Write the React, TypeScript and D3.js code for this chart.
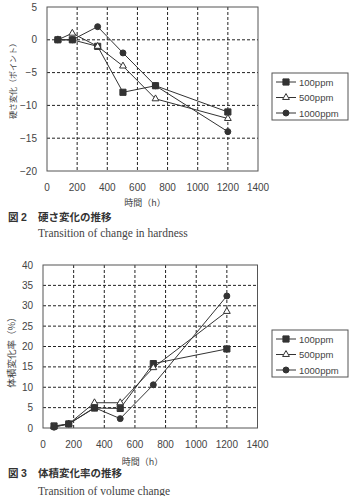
import React from 'react';
import * as d3 from 'd3';

// hours at which samples were measured
const hours = [72, 168, 336, 504, 720, 1200];
const seriesNames = ['100ppm', '500ppm', '1000ppm'];

// fig.2: hardness change (points)
const hardness100 = [0, 0, -1, -8, -7, -11];
const hardness500 = [0, 1, -1, -4, -9, -12];
const hardness1000 = [0, 0, 2, -2, -7, -14];

// fig.3: volume change rate (%)
const volume100 = [0.5, 1, 4.9, 4.8, 15.8, 19.4];
const volume500 = [0.3, 1, 6.2, 6.2, 14.8, 28.6];
const volume1000 = [0.2, 1, 5, 2.3, 10.6, 32.4];

const xTicks = [0, 200, 400, 600, 800, 1000, 1200, 1400];
const hardnessTicks = [5, 0, -5, -10, -15, -20];
const volumeTicks = [0, 5, 10, 15, 20, 25, 30, 35, 40];

const JP = '"Noto Sans CJK JP", sans-serif';
const SANS = '"Liberation Sans", Arial, sans-serif';
const SERIF = '"Liberation Serif", "Times New Roman", serif';
const INK = '#333';

const markerType = [d3.symbolSquare, d3.symbolTriangle, d3.symbolCircle];
const markerSize = [38, 20, 28];
const markerFill = [INK, '#fff', INK];

type PanelProps = {
  top: number;
  left: number;
  right: number;
  bottom: number;
  yDomain: [number, number];
  yTicks: number[];
  series: number[][];
  xTitleY: number;
  yTitle: string;
  yTitleX: number;
  yTitleY: number;
  yTitleSize: number;
  legendTop: number;
  figNo: string;
  figTitle: string;
  figEnglish: string;
  titleY: number;
  captionY: number;
};

const Marker = ({ i, x, y }: { i: number; x: number; y: number }) => (
  <path
    d={d3.symbol(markerType[i], markerSize[i])() || ''}
    transform={`translate(${x},${y})`}
    fill={markerFill[i]}
    stroke={INK}
    strokeWidth={1}
  />
);

const Panel = (p: PanelProps) => {
  const x = d3.scaleLinear().domain([0, 1400]).range([p.left, p.right]);
  const y = d3.scaleLinear().domain(p.yDomain).range([p.bottom, p.top]);
  const line = d3
    .line<number>()
    .x((_, i) => x(hours[i]))
    .y((d) => y(d));
  const fmt = (v: number) => (v < 0 ? `−${-v}` : `${v}`);

  return (
    <g>
      {/* dashed grid */}
      {xTicks.slice(1, -1).map((t) => (
        <line key={`gx${t}`} x1={x(t)} x2={x(t)} y1={p.top} y2={p.bottom}
          stroke="#222" strokeDasharray="3,2" />
      ))}
      {p.yTicks.filter((t) => t !== p.yDomain[0] && t !== p.yDomain[1]).map((t) => (
        <line key={`gy${t}`} x1={p.left} x2={p.right} y1={y(t)} y2={y(t)}
          stroke="#222" strokeDasharray="3,2" />
      ))}
      <rect x={p.left} y={p.top} width={p.right - p.left} height={p.bottom - p.top}
        fill="none" stroke="#555" />

      {/* tick labels */}
      {xTicks.map((t) => (
        <text key={`tx${t}`} x={x(t)} y={p.bottom + 19.5} textAnchor="middle"
          fontFamily={SANS} fontSize={10} fill="#444">{t}</text>
      ))}
      {p.yTicks.map((t) => (
        <text key={`ty${t}`} x={p.left - 10} y={y(t) + 3.5} textAnchor="end"
          fontFamily={SANS} fontSize={10} fill="#444">{fmt(t)}</text>
      ))}

      {/* axis titles */}
      <text x={x(650)} y={p.xTitleY} textAnchor="middle" fontFamily={JP}
        fontSize={9} fill="#444">時間（h）</text>
      <text transform={`translate(${p.yTitleX},${p.yTitleY}) rotate(-90)`} textAnchor="middle"
        dy="0.35em" fontFamily={JP} fontSize={p.yTitleSize} fill="#444">{p.yTitle}</text>

      {/* series */}
      {p.series.map((s, i) => (
        <g key={seriesNames[i]}>
          <path d={line(s) || ''} fill="none" stroke={INK} strokeWidth={1} />
          {s.map((v, j) => (
            <Marker key={j} i={i} x={x(hours[j])} y={y(v)} />
          ))}
        </g>
      ))}

      {/* legend */}
      <rect x={272} y={p.legendTop} width={76} height={47} fill="#fff" stroke="#555" />
      {seriesNames.map((n, i) => {
        const ly = p.legendTop + 9 + i * 15.5;
        return (
          <g key={n}>
            <line x1={276} x2={296} y1={ly} y2={ly} stroke={INK} />
            <Marker i={i} x={286} y={ly} />
            <text x={299} y={ly + 3.5} fontFamily={SANS} fontSize={9.5} fill="#444">{n}</text>
          </g>
        );
      })}

      {/* caption */}
      <text x={8} y={p.titleY} fontFamily={JP} fontSize={10.5} fontWeight="bold" fill="#333">
        図<tspan x={21} fontFamily={SANS}>{p.figNo}</tspan>
        <tspan x={38}>{p.figTitle}</tspan>
      </text>
      <text x={38} y={p.captionY} fontFamily={SERIF} fontSize={11.5} fill="#444">{p.figEnglish}</text>
    </g>
  );
};

export default function App() {
  return (
    <svg width={352} height={496} style={{ position: 'absolute', left: 0, top: 0, background: '#fff' }}>
      <Panel
        top={7} bottom={171} left={47} right={258}
        yDomain={[-20, 5]} yTicks={hardnessTicks}
        series={[hardness100, hardness500, hardness1000]}
        xTitleY={206}
        yTitle="硬さ変化（ポイント）" yTitleX={13} yTitleY={79} yTitleSize={8}
        legendTop={73}
        figNo="2" figTitle="硬さ変化の推移"
        figEnglish="Transition of change in hardness"
        titleY={220.5} captionY={236.5}
      />
      <Panel
        top={265} bottom={428} left={43} right={257.5}
        yDomain={[0, 40]} yTicks={volumeTicks}
        series={[volume100, volume500, volume1000]}
        xTitleY={465}
        yTitle="体積変化率（%）" yTitleX={12} yTitleY={350} yTitleSize={9.5}
        legendTop={330}
        figNo="3" figTitle="体積変化率の推移"
        figEnglish="Transition of volume change"
        titleY={477} captionY={494.5}
      />
    </svg>
  );
}
